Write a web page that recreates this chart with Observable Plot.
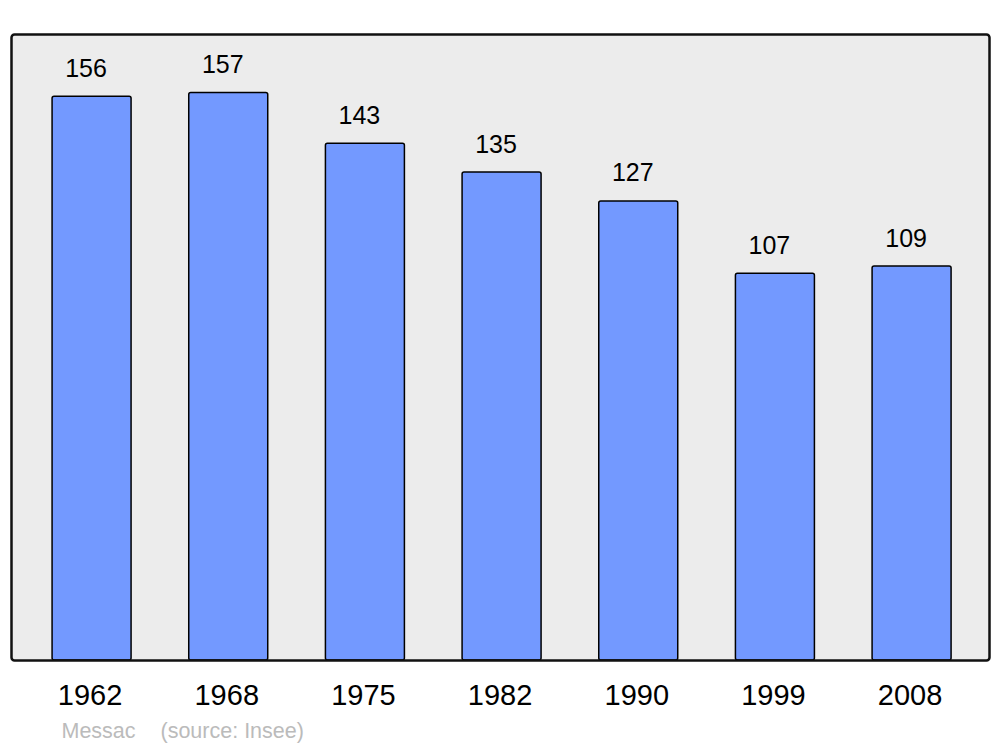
<!DOCTYPE html>
<html>
<head>
<meta charset="utf-8">
<script src="https://cdn.jsdelivr.net/npm/d3@7"></script>
<script src="https://cdn.jsdelivr.net/npm/@observablehq/plot@0.6"></script>
<style>
  html, body { margin: 0; padding: 0; background: #ffffff; }
  #chart svg { display: block; }
</style>
</head>
<body>
<div id="chart"></div>
<script>
const years = ["1962", "1968", "1975", "1982", "1990", "1999", "2008"];
const population = [156, 157, 143, 135, 127, 107, 109];
const place = "Messac";
const source = "(source: Insee)";

const data = years.map((year, i) => ({year, value: population[i]}));
const font = "'Liberation Sans', Arial, sans-serif";

const chart = Plot.plot({
  width: 1000,
  height: 747,
  marginLeft: 11,
  marginRight: 11,
  marginTop: 34,
  marginBottom: 87,
  style: {fontFamily: font, background: "#ffffff", color: "#000"},
  x: {
    type: "band",
    domain: years,
    paddingInner: 0.422,
    paddingOuter: 0.289,
    align: 0.52,
    round: false,
    label: null
  },
  y: {domain: [0, 173.2], axis: null},
  marks: [
    Plot.frame({fill: "#ececec", stroke: "none", rx: 3}),
    Plot.barY(data, {x: "year", y: "value", fill: "#7399ff", stroke: "#000", strokeWidth: 1.5, rx: 2}),
    Plot.frame({fill: "none", stroke: "#111", strokeWidth: 2.5, rx: 3}),
    Plot.text(data, {x: "year", y: "value", text: d => String(d.value), lineAnchor: "bottom", dy: -20, dx: -6, fontSize: 25, fill: "#000"}),
    Plot.axisX({tickSize: 0, tickPadding: 24, fontSize: 29, dx: -2, label: null, color: "#000"}),
    Plot.text([place], {frameAnchor: "bottom-left", dx: 50, dy: 77, lineAnchor: "bottom", textAnchor: "start", fontSize: 21.5, fill: "#bbbbbb"}),
    Plot.text([source], {frameAnchor: "bottom-left", dx: 149, dy: 77, lineAnchor: "bottom", textAnchor: "start", fontSize: 21.5, fill: "#bbbbbb"})
  ]
});
document.getElementById("chart").appendChild(chart);
</script>
</body>
</html>
